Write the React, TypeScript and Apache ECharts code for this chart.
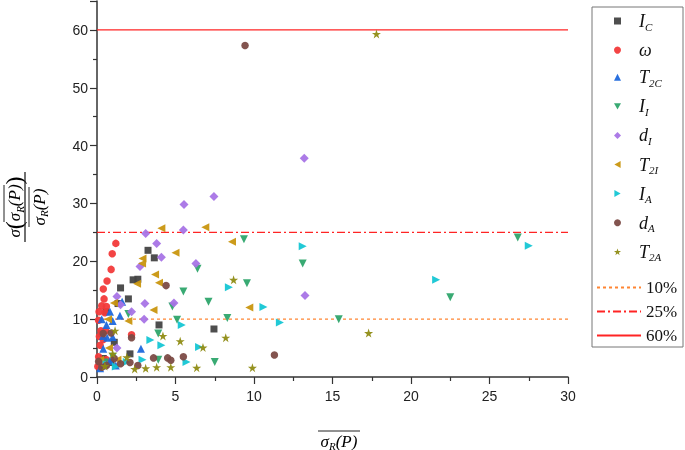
import React, { useEffect, useRef } from 'react';
import * as echarts from 'echarts';

// [x, y] pairs
const IC = [[0.57,11.3],[1.34,12.7],[1.5,15.4],[2.0,13.5],[2.3,16.8],[2.6,16.9],[3.25,21.9],[3.65,20.6],[3.95,9.0],[7.45,8.3],[2.1,4.0],[0.4,3.2],[0.9,2.5],[0.3,7.5],[1.1,6.0],[0.2,1.8]];
const OMEGA = [[1.2,23.1],[0.97,21.3],[0.9,18.6],[0.64,16.6],[0.4,15.2],[0.45,13.5],[0.3,12.3],[0.6,12.2],[0.13,11.3],[0.5,11.1],[0.25,8.0],[0.55,8.0],[2.2,7.3],[0.1,9.8],[0.2,5.5],[0.1,3.5],[0.3,2.8],[0.05,1.8],[0.6,3.0],[0.2,2.2],[0.15,7.0],[0.4,6.5]];
const T2C = [[0.83,11.3],[0.3,10.0],[1.0,9.7],[1.46,10.6],[0.38,7.1],[0.65,6.8],[1.0,6.9],[0.4,4.9],[2.8,4.9],[0.83,2.8],[0.2,1.5],[1.2,2.0],[0.6,9.0],[1.6,13.0]];
const II = [[9.36,23.8],[13.1,19.6],[9.55,16.2],[15.4,10.0],[26.8,24.1],[22.5,13.8],[6.4,18.7],[5.5,14.8],[7.1,13.0],[4.8,12.2],[5.1,9.9],[8.3,10.2],[3.9,7.5],[7.5,2.6],[3.9,3.0],[2.0,10.9],[1.0,3.5],[0.5,2.5]];
const DI = [[13.2,37.8],[13.25,14.1],[7.45,31.2],[5.54,29.8],[5.5,25.4],[3.1,24.8],[3.8,23.1],[4.1,20.7],[2.74,19.1],[6.3,19.6],[1.27,13.9],[1.5,12.5],[3.05,12.7],[4.9,12.8],[2.2,11.3],[3.0,10.0],[1.27,5.0],[0.5,2.0]];
const T2I = [[4.1,25.7],[6.9,25.9],[8.6,23.4],[5.0,21.5],[2.9,20.5],[2.87,19.6],[3.7,17.7],[3.95,16.3],[2.55,16.1],[3.6,11.6],[1.08,12.8],[2.0,9.7],[0.76,5.0],[9.7,12.0],[0.2,3.0],[1.3,3.0],[0.7,10.0]];
const IA = [[27.5,22.7],[21.6,16.8],[13.1,22.6],[10.6,12.1],[11.65,9.4],[8.4,15.5],[5.4,9.0],[4.1,5.5],[6.5,5.2],[5.7,2.6],[3.4,6.4],[2.9,3.0],[1.9,2.6],[0.6,2.2],[1.2,1.8]];
const DA = [[9.43,57.3],[4.4,15.8],[2.2,6.8],[5.5,3.5],[4.5,3.3],[3.6,3.3],[4.7,2.9],[11.3,3.8],[2.1,2.5],[0.4,7.5],[0.9,7.6],[1.1,3.2],[0.6,2.0],[0.3,1.7],[1.5,2.3],[2.6,2.0],[0.1,2.7]];
const T2A = [[17.8,59.3],[17.3,7.6],[9.9,1.6],[8.7,16.8],[4.2,7.1],[5.3,6.2],[8.2,6.8],[6.75,5.1],[3.8,1.7],[4.7,1.7],[6.35,1.6],[1.15,8.0],[1.9,3.4],[2.4,1.4],[3.1,1.5],[0.5,1.9],[1.0,4.0]];

const THRESHOLDS = [10, 25, 60];
const THRESHOLD_NAMES = ['10%', '25%', '60%'];
const X_RANGE = [0, 30];

const STAR = 'path://M50,0 L61.8,35.1 L97.6,35.1 L68.5,56.8 L79.4,90.5 L50,69.1 L20.6,90.5 L31.5,56.8 L2.4,35.1 L38.2,35.1 Z';
const TRI_DOWN = 'path://M0,0 L10,0 L5,9 Z';
const TRI_LEFT = 'path://M9,0 L9,10 L0,5 Z';
const TRI_RIGHT = 'path://M0,0 L0,10 L9,5 Z';

const SCATTERS = [
  { name: 'IC', label: '{i|I}{s|C}', data: IC, symbol: 'rect', rotate: 0, icon: 'rect', size: 7, color: '#444444' },
  { name: 'w', label: '{i|ω}', data: OMEGA, symbol: 'circle', rotate: 0, icon: 'circle', size: 7.5, color: '#f23a3a' },
  { name: 'T2C', label: '{i|T}{s|2C}', data: T2C, symbol: 'triangle', rotate: 0, icon: 'triangle', size: 8, color: '#1e68dc' },
  { name: 'II', label: '{i|I}{s|I}', data: II, symbol: 'triangle', rotate: 180, icon: TRI_DOWN, size: 8, color: '#2ea56c' },
  { name: 'dI', label: '{i|d}{s|I}', data: DI, symbol: 'diamond', rotate: 0, icon: 'diamond', size: 9, color: '#a874e6' },
  { name: 'T2I', label: '{i|T}{s|2I}', data: T2I, symbol: 'triangle', rotate: 90, icon: TRI_LEFT, size: 8, color: '#c9960f' },
  { name: 'IA', label: '{i|I}{s|A}', data: IA, symbol: 'triangle', rotate: -90, icon: TRI_RIGHT, size: 8, color: '#15c6d4' },
  { name: 'dA', label: '{i|d}{s|A}', data: DA, symbol: 'circle', rotate: 0, icon: 'circle', size: 7.5, color: '#7c4b46' },
  { name: 'T2A', label: '{i|T}{s|2A}', data: T2A, symbol: STAR, rotate: 0, icon: STAR, size: 9, color: '#8f8c14' },
];

const LINES = [
  { color: '#ff8533', type: [3, 3], width: 1.3 },
  { color: '#ff2424', type: [8, 3, 2, 3], width: 1.4 },
  { color: '#ff2424', type: 'solid', width: 1.4 },
];

const serif = 'Liberation Serif';
const richMain = {
  g: { width: 13 },
  i: { fontFamily: serif, fontStyle: 'italic', fontSize: 18, lineHeight: 22, color: '#111' },
  s: { fontFamily: serif, fontStyle: 'italic', fontSize: 11, lineHeight: 11, verticalAlign: 'bottom', color: '#111' },
  n: { fontFamily: serif, fontSize: 17, lineHeight: 16, color: '#111' },
};

const titleRich = {
  a: { fontFamily: serif, fontStyle: 'italic', fontSize: 17, lineHeight: 20, color: '#222' },
  b: { fontFamily: serif, fontSize: 24, lineHeight: 22, color: '#222' },
  s: { fontFamily: serif, fontStyle: 'italic', fontSize: 11, lineHeight: 11, verticalAlign: 'bottom', color: '#222' },
};

export default function App() {
  const ref = useRef<HTMLDivElement>(null);
  useEffect(() => {
    if (!ref.current) return;
    const chart = echarts.init(ref.current, undefined, { renderer: 'svg' });
    const labelMap: Record<string, string> = {};
    SCATTERS.forEach((s) => (labelMap[s.name] = '{g|}' + s.label));
    THRESHOLD_NAMES.forEach((n) => (labelMap[n] = '{n|' + n + '}'));

    const series: any[] = SCATTERS.map((s) => ({
      type: 'scatter',
      name: s.name,
      data: s.data,
      symbol: s.symbol,
      symbolRotate: s.rotate,
      symbolSize: s.size,
      itemStyle: { color: s.color, opacity: 0.95 },
    }));
    THRESHOLDS.forEach((t, i) => {
      series.push({
        type: 'line',
        name: THRESHOLD_NAMES[i],
        data: [[X_RANGE[0], t], [X_RANGE[1], t]],
        symbol: 'none',
        showSymbol: false,
        lineStyle: { color: LINES[i].color, type: LINES[i].type, width: LINES[i].width },
        itemStyle: { color: LINES[i].color },
        z: 1,
      });
    });

    const axisCommon = {
      axisLine: { show: true, lineStyle: { color: '#333', width: 1.5 } },
      axisTick: { show: true, inside: false, length: 7, lineStyle: { color: '#333', width: 1.2 } },
      minorTick: { show: true, splitNumber: 2, length: 4, lineStyle: { color: '#333', width: 1.2 } },
      splitLine: { show: false },
      axisLabel: { color: '#222', fontFamily: 'Liberation Sans', fontSize: 14 },
    };

    const legendCommon = {
      orient: 'vertical',
      padding: 0,
      itemHeight: 7,
      selectedMode: false,
      formatter: (name: string) => labelMap[name] || name,
      textStyle: { rich: richMain },
    };

    chart.setOption({
      animation: false,
      grid: { left: 97, right: 117, top: 1, bottom: 73, containLabel: false },
      xAxis: {
        type: 'value', min: 0, max: 30, interval: 5, ...axisCommon,
        axisLabel: { ...axisCommon.axisLabel, margin: 12 },
      },
      yAxis: {
        type: 'value', min: 0, max: 65, interval: 10, ...axisCommon,
        axisLabel: { ...axisCommon.axisLabel, margin: 9, showMaxLabel: false },
      },
      legend: [
        {
          ...legendCommon,
          left: 614,
          top: 12,
          itemGap: 9.1,
          itemWidth: 7,
          data: SCATTERS.map((s) => ({ name: s.name, icon: s.icon })),
        },
        {
          ...legendCommon,
          left: 596,
          top: 279,
          itemGap: 7,
          itemWidth: 44,
          data: THRESHOLD_NAMES.map((n) => ({ name: n, itemStyle: { opacity: 0 } })),
        },
      ],
      graphic: [
        { type: 'rect', shape: { x: 592, y: 7, width: 91, height: 340 }, style: { fill: 'none', stroke: '#777', lineWidth: 1 }, silent: true },
        {
          type: 'text', x: 339, y: 441,
          style: { text: '{a|σ}{s|R}{a|(P)}', rich: titleRich, align: 'center', verticalAlign: 'middle' },
        },
        { type: 'line', shape: { x1: 318, y1: 431, x2: 360, y2: 431 }, style: { stroke: '#222', lineWidth: 1 } },
        {
          type: 'group', x: 25, y: 207, rotation: Math.PI / 2,
          children: [
            { type: 'text', x: 0, y: -11, style: { text: '{a|σ}{b|(}{a|σ}{s|R}{a|(P)}{b|)}', rich: titleRich, align: 'center', verticalAlign: 'middle' } },
            { type: 'line', shape: { x1: -15, y1: -21, x2: 22, y2: -21 }, style: { stroke: '#222', lineWidth: 1 } },
            { type: 'line', shape: { x1: -35, y1: 0, x2: 35, y2: 0 }, style: { stroke: '#222', lineWidth: 1.3 } },
            { type: 'line', shape: { x1: -20, y1: 4, x2: 20, y2: 4 }, style: { stroke: '#222', lineWidth: 1 } },
            { type: 'text', x: 0, y: 14, style: { text: '{a|σ}{s|R}{a|(P)}', rich: titleRich, align: 'center', verticalAlign: 'middle' } },
          ],
        },
      ],
      series,
    });
    return () => chart.dispose();
  }, []);
  return <div ref={ref} style={{ position: 'fixed', left: 0, top: 0, width: 685, height: 450 }} />;
}
